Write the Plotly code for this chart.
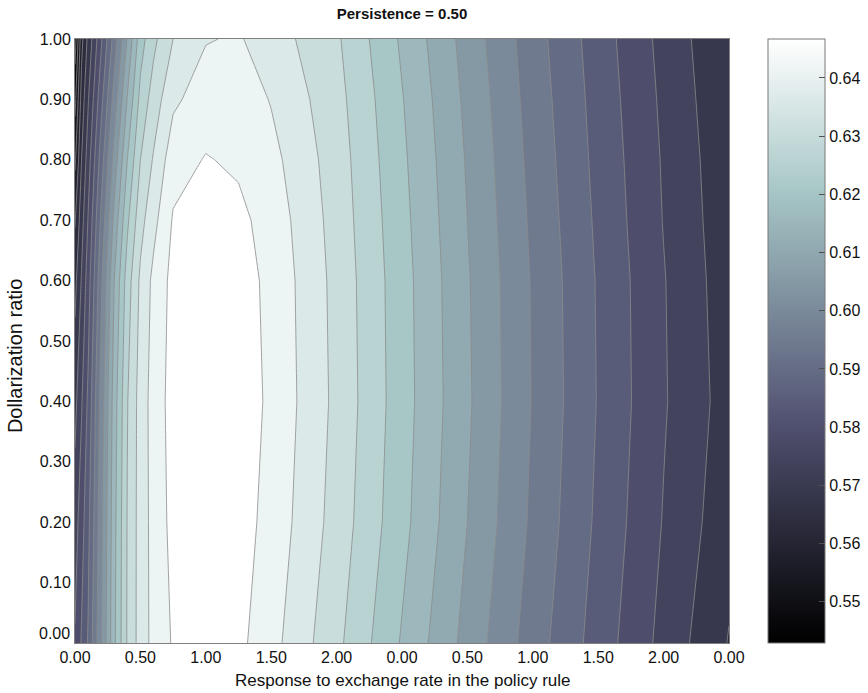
import plotly.graph_objects as go

# Grid of the surface (x = response to exchange rate, y = dollarization ratio)
x_vals = [0, 0.05, 0.1, 0.2, 0.3, 0.4, 0.5, 0.6, 0.75, 1.0, 1.25, 1.5, 2.0, 2.5, 3.0, 3.5, 4.0, 4.5, 5.0]
y_vals = [0.0, 0.2, 0.4, 0.6, 0.7, 0.8, 0.9, 1.0]

row_y00 = [0.5773, 0.5825, 0.5877, 0.6023, 0.6174, 0.6293, 0.6363, 0.6408, 0.6449, 0.6478, 0.6457, 0.6410, 0.6301, 0.6179, 0.6062, 0.5950, 0.5849, 0.5752, 0.5661]
row_y02 = [0.5742, 0.5799, 0.5856, 0.6012, 0.6168, 0.6291, 0.6363, 0.6410, 0.6460, 0.6486, 0.6467, 0.6426, 0.6319, 0.6200, 0.6080, 0.5966, 0.5862, 0.5765, 0.5682]
row_y04 = [0.5700, 0.5763, 0.5830, 0.5997, 0.6158, 0.6285, 0.6363, 0.6413, 0.6465, 0.6491, 0.6473, 0.6434, 0.6327, 0.6207, 0.6088, 0.5973, 0.5869, 0.5773, 0.5693]
row_y06 = [0.5648, 0.5721, 0.5794, 0.5966, 0.6132, 0.6262, 0.6350, 0.6405, 0.6460, 0.6483, 0.6467, 0.6431, 0.6324, 0.6205, 0.6085, 0.5971, 0.5867, 0.5771, 0.5687]
row_y07 = [0.5607, 0.5695, 0.5771, 0.5934, 0.6096, 0.6226, 0.6322, 0.6376, 0.6449, 0.6470, 0.6457, 0.6423, 0.6319, 0.6200, 0.6080, 0.5966, 0.5862, 0.5766, 0.5683]
row_y08 = [0.5550, 0.5664, 0.5742, 0.5898, 0.6049, 0.6184, 0.6288, 0.6345, 0.6423, 0.6447, 0.6436, 0.6408, 0.6314, 0.6194, 0.6075, 0.5960, 0.5857, 0.5763, 0.5679]
row_y09 = [0.5492, 0.5633, 0.5711, 0.5856, 0.5999, 0.6135, 0.6252, 0.6311, 0.6382, 0.6418, 0.6421, 0.6389, 0.6306, 0.6187, 0.6068, 0.5954, 0.5852, 0.5758, 0.5673]
row_y10 = [0.5430, 0.5596, 0.5677, 0.5812, 0.5947, 0.6085, 0.6213, 0.6275, 0.6340, 0.6389, 0.6397, 0.6366, 0.6296, 0.6176, 0.6059, 0.5947, 0.5846, 0.5752, 0.5667]

z_rows = [row_y00, row_y02, row_y04, row_y06, row_y07, row_y08, row_y09, row_y10]

x_tickvals = [0, 0.5, 1.0, 1.5, 2.0, 2.5, 3.0, 3.5, 4.0, 4.5, 5.0]
x_ticktext = ["0.00", "0.50", "1.00", "1.50", "2.00", "0.00", "0.50", "1.00", "1.50", "2.00", "0.00"]
y_tickvals = [0.1, 0.2, 0.3, 0.4, 0.5, 0.6, 0.7, 0.8, 0.9, 1.0]
y_ticktext = ["0.10", "0.20", "0.30", "0.40", "0.50", "0.60", "0.70", "0.80", "0.90", "1.00"]
y_zero_label = "0.00"
cbar_tickvals = [0.55, 0.56, 0.57, 0.58, 0.59, 0.60, 0.61, 0.62, 0.63, 0.64]
cbar_ticktext = ["0.55", "0.56", "0.57", "0.58", "0.59", "0.60", "0.61", "0.62", "0.63", "0.64"]

z_min, z_max = 0.5429, 0.6467
level_start, level_end, level_size = 0.5456, 0.6444, 0.0052

bone = [[0.0, "rgb(0,0,0)"], [0.365, "rgb(81,81,113)"],
        [0.746, "rgb(166,198,198)"], [1.0, "rgb(255,255,255)"]]

FONT = "Liberation Sans, Arial, sans-serif"
W, H = 868, 693
L, R, T, B = 75, 139, 39, 50
pw = W - L - R
ph = H - T - B
CB_X0 = 768  # colorbar left edge (px)

fig = go.Figure()
fig.add_trace(go.Contour(
    x=x_vals, y=y_vals, z=z_rows,
    colorscale=bone, autocontour=False,
    contours=dict(start=level_start, end=level_end, size=level_size,
                  coloring="fill", showlines=True),
    line=dict(color="rgb(140,140,140)", width=0.8, smoothing=0),
    showscale=False, hoverinfo="skip",
))
fig.add_trace(go.Scatter(
    x=[2.5], y=[0.5], mode="markers", hoverinfo="skip", showlegend=False,
    marker=dict(size=1, opacity=0, color=[0.6], colorscale=bone,
                cmin=z_min, cmax=z_max, showscale=True,
                colorbar=dict(x=(CB_X0 - L) / pw, xanchor="left", xpad=0,
                              y=0.5, yanchor="middle", len=1, lenmode="fraction", ypad=0,
                              thickness=57, outlinewidth=1, outlinecolor="rgb(120,120,120)",
                              tickvals=cbar_tickvals, ticktext=cbar_ticktext,
                              ticks="inside", ticklen=6, tickcolor="rgb(80,80,80)",
                              tickfont=dict(family=FONT, size=16, color="#111"))),
))

# tick marks on the left side of the colour bar (mirroring the right-side ticks)
cb_shapes = [
    dict(type="line", xref="paper", yref="paper",
         x0=(CB_X0 - L) / pw, x1=(CB_X0 + 6 - L) / pw,
         y0=(v - z_min) / (z_max - z_min), y1=(v - z_min) / (z_max - z_min),
         line=dict(color="rgb(80,80,80)", width=1))
    for v in cbar_tickvals
]

fig.update_layout(
    width=W, height=H, margin=dict(l=L, r=R, t=T, b=B, autoexpand=False),
    paper_bgcolor="white", plot_bgcolor="white",
    font=dict(family=FONT, size=16, color="#111"),
    title=dict(text="<b>Persistence = 0.50</b>", x=(L + pw / 2) / W, xanchor="center",
               y=1 - 14 / H, yanchor="middle", font=dict(family=FONT, size=15, color="#111")),
    xaxis=dict(range=[0, 5], tickvals=x_tickvals, ticktext=x_ticktext, ticks="",
               showline=True, mirror=True, linecolor="rgb(128,128,128)", linewidth=1,
               showgrid=False, zeroline=False, tickfont=dict(size=16), automargin=False),
    yaxis=dict(range=[0, 1], tickvals=y_tickvals, ticktext=y_ticktext,
               ticks="", showline=True, mirror=True, linecolor="rgb(128,128,128)", linewidth=1,
               showgrid=False, zeroline=False, tickfont=dict(size=16), automargin=False),
    shapes=cb_shapes,
    annotations=[
        dict(text=y_zero_label, xref="paper", yref="paper", x=0, y=10 / ph,
             xanchor="right", yanchor="middle", xshift=-3, showarrow=False,
             font=dict(family=FONT, size=16, color="#111")),
        dict(text="Response to exchange rate in the policy rule", xref="paper", yref="paper",
             x=0.5, y=(643 - 680) / ph, xanchor="center", yanchor="middle", showarrow=False,
             font=dict(family=FONT, size=17, color="#111")),
        dict(text="Dollarization ratio", xref="paper", yref="paper", textangle=-90,
             x=(15 - L) / pw, y=0.475, xanchor="center", yanchor="middle", showarrow=False,
             font=dict(family=FONT, size=20, color="#111")),
    ],
)

fig.write_html("out.html", config={"displayModeBar": False},
               post_script="document.body.style.margin='0px';document.body.style.overflow='hidden';")
